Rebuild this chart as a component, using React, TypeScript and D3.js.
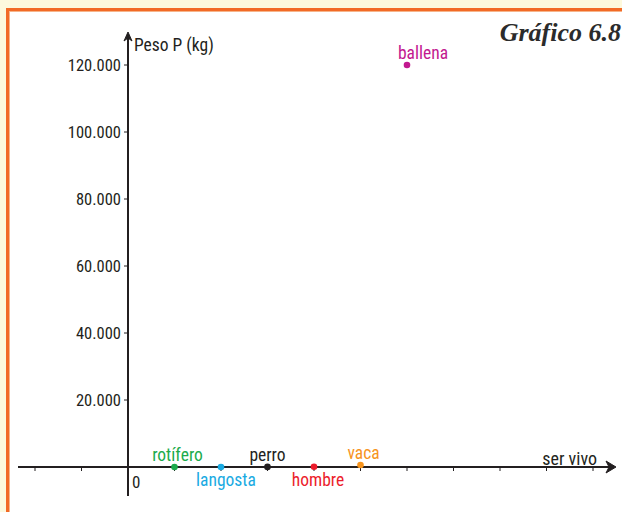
import React from "react";
import * as d3 from "d3";

const seres = ["rotífero", "langosta", "perro", "hombre", "vaca", "ballena"];
const pesos = [0.001, 1, 30, 70, 600, 120000];
const colores = ["#1bab4c", "#19aae2", "#231f20", "#ec1c2b", "#f7941d", "#c2188f"];
const etiquetaArriba = [true, false, true, false, true, true];
const desplazamiento = [3, 5, 0, 4, 3, 16];
const yTicks = [20000, 40000, 60000, 80000, 100000, 120000];
const xTicks = [-2, -1, 1, 2, 3, 4, 5, 6, 7, 8, 9, 10];

const W = 622;
const H = 512;
const font = "'Liberation Sans Narrow', 'Arial Narrow', 'Roboto Condensed', sans-serif";

export default function App() {
  const x = d3.scaleLinear().domain([-2, 10]).range([35, 593]);
  const y = d3.scaleLinear().domain([0, 120000]).range([467, 65]);
  const x0 = x(0);
  const y0 = y(0);
  const fmt = (v: number) => d3.format(",")(v).replace(/,/g, ".");
  return (
    <svg width={W} height={H} style={{ position: "absolute", left: 0, top: 0 }}>
      <rect x={0} y={0} width={W} height={H} fill="#fdf9dd" />
      <rect x={6} y={8} width={W - 6} height={H - 8} fill="#f26a26" />
      <rect x={9} y={11} width={W - 9} height={H - 11} fill="#f6b48a" />
      <rect x={10} y={12} width={W - 10} height={H - 12} fill="#ffffff" />
      <text x={621} y={41} textAnchor="end" fontFamily="'Liberation Serif', 'DejaVu Serif', serif" fontStyle="italic" fontWeight="bold" fontSize={26} fill="#2b2b2b">Gráfico 6.8</text>
      {/* x axis */}
      <line x1={18} x2={614} y1={y0} y2={y0} stroke="#231f20" strokeWidth={2} />
      <path d={`M${606},${y0 - 6} L${616},${y0} L${606},${y0 + 6} L${609},${y0} Z`} fill="#231f20" stroke="#231f20" strokeWidth={1} strokeLinejoin="round" />
      {xTicks.map((t) => (
        <line key={t} x1={x(t)} x2={x(t)} y1={y0} y2={y0 + 4} stroke="#231f20" strokeWidth={1} />
      ))}
      {/* y axis */}
      <line x1={x0} x2={x0} y1={496} y2={36} stroke="#231f20" strokeWidth={2} />
      <path d={`M${x0 - 4},${41} L${x0},${32} L${x0 + 4},${41} L${x0},${38} Z`} fill="#231f20" stroke="#231f20" strokeWidth={1} strokeLinejoin="round" />
      {yTicks.map((t) => (
        <g key={t}>
          <line x1={x0 - 4} x2={x0} y1={y(t)} y2={y(t)} stroke="#231f20" strokeWidth={1} />
          <text x={x0 - 7} y={y(t) + 5.5} textAnchor="end" fontFamily={font} fontSize={16.5} fill="#231f20">{fmt(t)}</text>
        </g>
      ))}
      <text x={x0 + 6} y={51} fontFamily={font} fontSize={17.5} fill="#231f20">Peso P (kg)</text>
      <text x={x0 + 4} y={488} fontFamily={font} fontSize={17} fill="#231f20">0</text>
      <text x={597} y={465} textAnchor="end" fontFamily={font} fontSize={18} fill="#231f20">ser vivo</text>
      {seres.map((s, i) => {
        const cx = x(i + 1);
        const cy = y(pesos[i]);
        return (
          <g key={s}>
            <circle cx={cx} cy={cy} r={3.3} fill={colores[i]} />
            <text x={cx + desplazamiento[i]} y={etiquetaArriba[i] ? cy - 6 : cy + 19} textAnchor="middle" fontFamily={font} fontSize={17.5} fill={colores[i]}>{s}</text>
          </g>
        );
      })}
    </svg>
  );
}
